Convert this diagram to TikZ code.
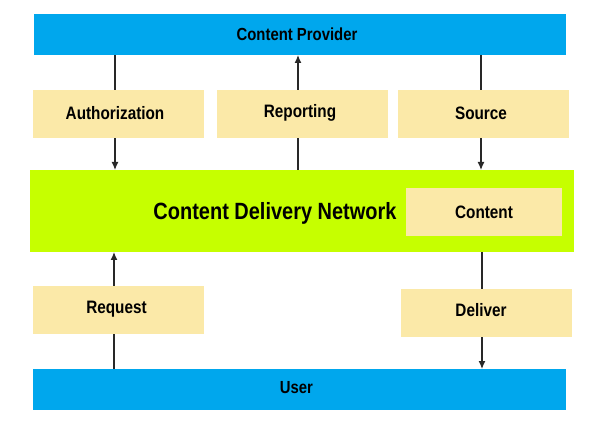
\documentclass[tikz,border=0pt]{standalone}
\usepackage{fontspec}
\setmainfont[FakeStretch=0.85]{Liberation Sans}
\usetikzlibrary{arrows.meta}
\definecolor{barblue}{RGB}{0,167,237}
\definecolor{cdngreen}{RGB}{198,255,0}
\definecolor{tan}{RGB}{251,233,168}
\definecolor{arrowgray}{RGB}{40,40,40}
\tikzset{
  bar/.style={fill=barblue, draw=none, inner sep=0pt, font=\fontsize{17.5}{20}\selectfont\bfseries},
  tanbox/.style={fill=tan, draw=none, inner sep=0pt, font=\fontsize{18}{20}\selectfont\bfseries},
  cdnbox/.style={fill=cdngreen, draw=none, inner sep=0pt},
  flow/.style={draw=arrowgray, line width=1.2pt, -{Latex[length=8pt,width=7pt]}},
}
\begin{document}
\begin{tikzpicture}[x=1pt,y=-1pt]
\useasboundingbox (0,0) rectangle (590,433);
% connectors behind boxes
\coordinate (a1) at (115,55);  \coordinate (a2) at (115,170);
\coordinate (r1) at (298,170); \coordinate (r2) at (298,55);
\coordinate (s1) at (481,55);  \coordinate (s2) at (481,170);
\coordinate (q1) at (114,369); \coordinate (q2) at (114,252);
\coordinate (d1) at (482,252); \coordinate (d2) at (482,369);
\draw[flow] (a1) -- (a2);
\draw[flow] (r1) -- (r2);
\draw[flow] (s1) -- (s2);
\draw[flow] (q1) -- (q2);
\draw[flow] (d1) -- (d2);
% boxes
\node[bar, minimum width=532, minimum height=41] (provider) at (300,34.5) {};
\node[font=\fontsize{17.5}{20}\selectfont\bfseries] (providerlabel) at (297,34) {Content Provider};
\node[tanbox, minimum width=171, minimum height=48] (auth) at (118.5,114) {};
\node[font=\fontsize{18}{20}\selectfont\bfseries] (authlabel) at (115,113) {Authorization};
\node[tanbox, minimum width=171, minimum height=48] (report) at (302.5,114) {};
\node[font=\fontsize{18}{20}\selectfont\bfseries] (reportlabel) at (300,113) {Reporting};
\node[tanbox, minimum width=171, minimum height=48] (source) at (483.5,114) {};
\node[font=\fontsize{18}{20}\selectfont\bfseries] (sourcelabel) at (481,113) {Source};
\node[cdnbox, minimum width=544, minimum height=82] (cdn) at (302,211) {};
\node[font=\fontsize{23.5}{26}\selectfont\bfseries] (cdnlabel) at (275,213) {Content Delivery Network};
\node[tanbox, minimum width=156, minimum height=48] (content) at (484,212) {};
\node[font=\fontsize{18}{20}\selectfont\bfseries] (contentlabel) at (484,212) {Content};
\node[tanbox, minimum width=171, minimum height=48] (request) at (118.5,310) {};
\node[font=\fontsize{18}{20}\selectfont\bfseries] (requestlabel) at (116.5,309) {Request};
\node[tanbox, minimum width=171, minimum height=48] (deliver) at (486.5,313) {};
\node[font=\fontsize{18}{20}\selectfont\bfseries] (deliverlabel) at (481,310) {Deliver};
\node[bar, minimum width=533, minimum height=41] (user) at (299.5,389.5) {};
\node[font=\fontsize{17.5}{20}\selectfont\bfseries] (userlabel) at (296.5,388) {User};
\end{tikzpicture}
\end{document}
